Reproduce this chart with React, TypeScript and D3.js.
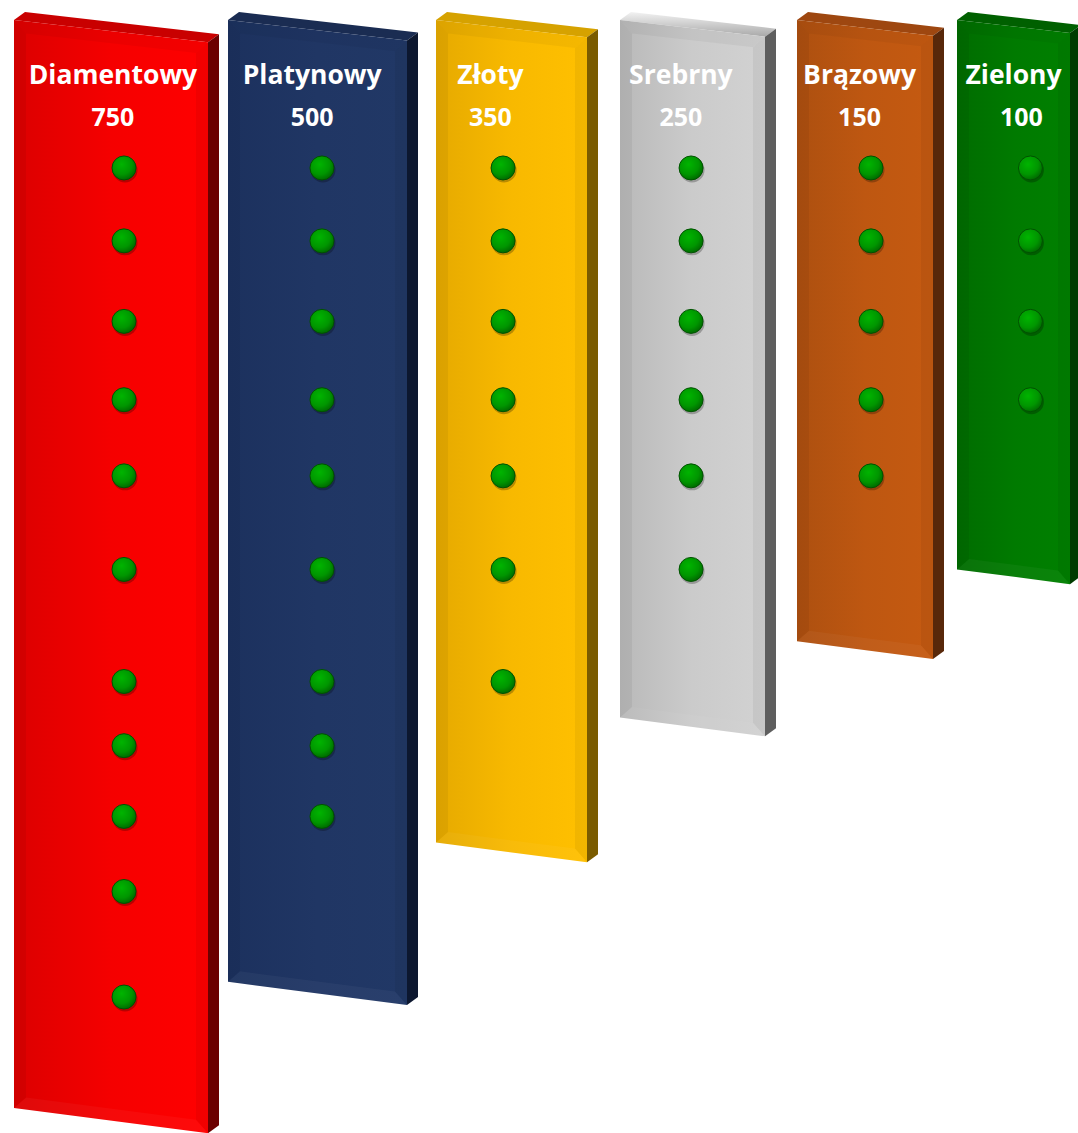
import React from "react";
import * as d3 from "d3";

// ---- data ----
const categories = ["Diamentowy", "Platynowy", "Złoty", "Srebrny", "Brązowy", "Zielony"];
const thresholds = [750, 500, 350, 250, 150, 100];
const dotCounts = [11, 9, 7, 6, 5, 4];
const panelLengths = [1000, 884, 756, 641, 571, 505];
const panelWidths = [194, 179, 151, 145, 136, 113];
const dotLevels = [136, 203, 277, 349, 419, 505, 608, 667, 732, 801, 898];

// ---- layout / styles ----
const gapsAfter = [9, 18, 22, 21, 13, 0];
const dotFrac = [0.567, 0.525, 0.444, 0.49, 0.544, 0.65];
const labelFrac = [0.51, 0.47, 0.36, 0.42, 0.46, 0.5];
const numberFrac = [0.51, 0.47, 0.36, 0.42, 0.46, 0.57];
const palette = [
  { front: ["#dc0000", "#ff0000"], top: "#c90000", side: "#6c0000" },
  { front: ["#1c315e", "#213866"], top: "#1a2c52", side: "#0c172f" },
  { front: ["#e6aa00", "#ffc000"], top: "#d6a200", side: "#7a5b00" },
  { front: ["#b9b9b9", "#d2d2d2"], top: "#b4b4b4", side: "#5e5e5e" },
  { front: ["#ad5010", "#c55a11"], top: "#9e4710", side: "#58280a" },
  { front: ["#006c00", "#008000"], top: "#006000", side: "#003c00" },
];

const W = 1078;
const H = 1133;
const DEPTH = { dx: 11, dy: -8 };
const S_TOP = 0.115;
const S_BOT = 0.13;
const BEVEL = 12;

export default function App() {
  const y = d3.scaleLinear().domain([0, 1000]).range([20, 1108]);
  const steps = panelWidths.map((w, i) => w + DEPTH.dx + gapsAfter[i]);
  const starts = [0, ...Array.from(d3.cumsum(steps))];
  const total = starts[starts.length - 1];
  const x = d3.scaleLinear().domain([0, total]).range([14, 14 + total]);
  const line = d3.line<[number, number]>();
  const poly = (pts: [number, number][]) => line(pts) + "Z";

  return (
    <svg
      width={W}
      height={H}
      style={{ position: "absolute", left: 0, top: 0, background: "#fff" }}
      fontFamily="'Open Sans', Lato, sans-serif"
    >
      <defs>
        <radialGradient id="dotGrad" cx="0.4" cy="0.35" r="0.7">
          <stop offset="0" stopColor="#00b400" />
          <stop offset="0.6" stopColor="#009600" />
          <stop offset="1" stopColor="#006400" />
        </radialGradient>
        {palette.map((p, i) => (
          <linearGradient key={i} id={`front${i}`} x1="0" x2="1" y1="0" y2="0">
            <stop offset="0" stopColor={p.front[0]} />
            <stop offset="0.5" stopColor={d3.interpolateRgb(p.front[0], p.front[1])(0.7)} />
            <stop offset="1" stopColor={p.front[1]} />
          </linearGradient>
        ))}
        <linearGradient id="silverTop" x1="0" x2="0" y1="0" y2="1">
          <stop offset="0" stopColor="#f2f2f2" />
          <stop offset="1" stopColor="#a9a9a9" />
        </linearGradient>
      </defs>
      {categories.map((cat, i) => {
        const L = x(starts[i]);
        const R = L + panelWidths[i];
        const w = R - L;
        const yTL = y(0);
        const yTR = yTL + S_TOP * w;
        const yBL = y(panelLengths[i]);
        const yBR = yBL + S_BOT * w;
        const { dx, dy } = DEPTH;
        const oTL: [number, number] = [L, yTL];
        const oTR: [number, number] = [R, yTR];
        const oBR: [number, number] = [R, yBR];
        const oBL: [number, number] = [L, yBL];
        const b = BEVEL;
        const iTL: [number, number] = [L + b, yTL + S_TOP * b + b];
        const iTR: [number, number] = [R - b, yTR - S_TOP * b + b];
        const iBR: [number, number] = [R - b, yBR - S_BOT * b - b];
        const iBL: [number, number] = [L + b, yBL + S_BOT * b - b];
        const p = palette[i];
        const dotX = L + dotFrac[i] * w;
        return (
          <g key={cat}>
            <path
              d={poly([oTL, [L + dx, yTL + dy], [R + dx, yTR + dy], oTR])}
              fill={i === 3 ? "url(#silverTop)" : p.top}
            />
            <path
              d={poly([oTR, [R + dx, yTR + dy], [R + dx, yBR + dy], oBR])}
              fill={p.side}
            />
            <path d={poly([oTL, oTR, oBR, oBL])} fill={`url(#front${i})`} />
            <path d={poly([oTL, oTR, iTR, iTL])} fill="#000" opacity={0.04} />
            <path d={poly([oTR, oBR, iBR, iTR])} fill="#000" opacity={0.05} />
            <path d={poly([oBR, oBL, iBL, iBR])} fill="#fff" opacity={0.04} />
            <path d={poly([oBL, oTL, iTL, iBL])} fill="#000" opacity={0.05} />
            <text
              x={L + labelFrac[i] * w}
              y={84}
              textAnchor="middle"
              fill="#fff"
              fontWeight={700}
              fontSize={26.5}
            >
              {cat}
            </text>
            <text
              x={L + numberFrac[i] * w}
              y={126}
              textAnchor="middle"
              fill="#fff"
              fontWeight={700}
              fontSize={25}
            >
              {thresholds[i]}
            </text>
            {dotLevels.slice(0, dotCounts[i]).map((lv, k) => (
              <g key={k}>
                <circle cx={dotX + 1} cy={y(lv) + 2} r={12.5} fill="#000" opacity={0.25} />
                <circle
                  cx={dotX}
                  cy={y(lv)}
                  r={12}
                  fill="url(#dotGrad)"
                  stroke="#005200"
                  strokeWidth={1}
                />
              </g>
            ))}
          </g>
        );
      })}
    </svg>
  );
}
